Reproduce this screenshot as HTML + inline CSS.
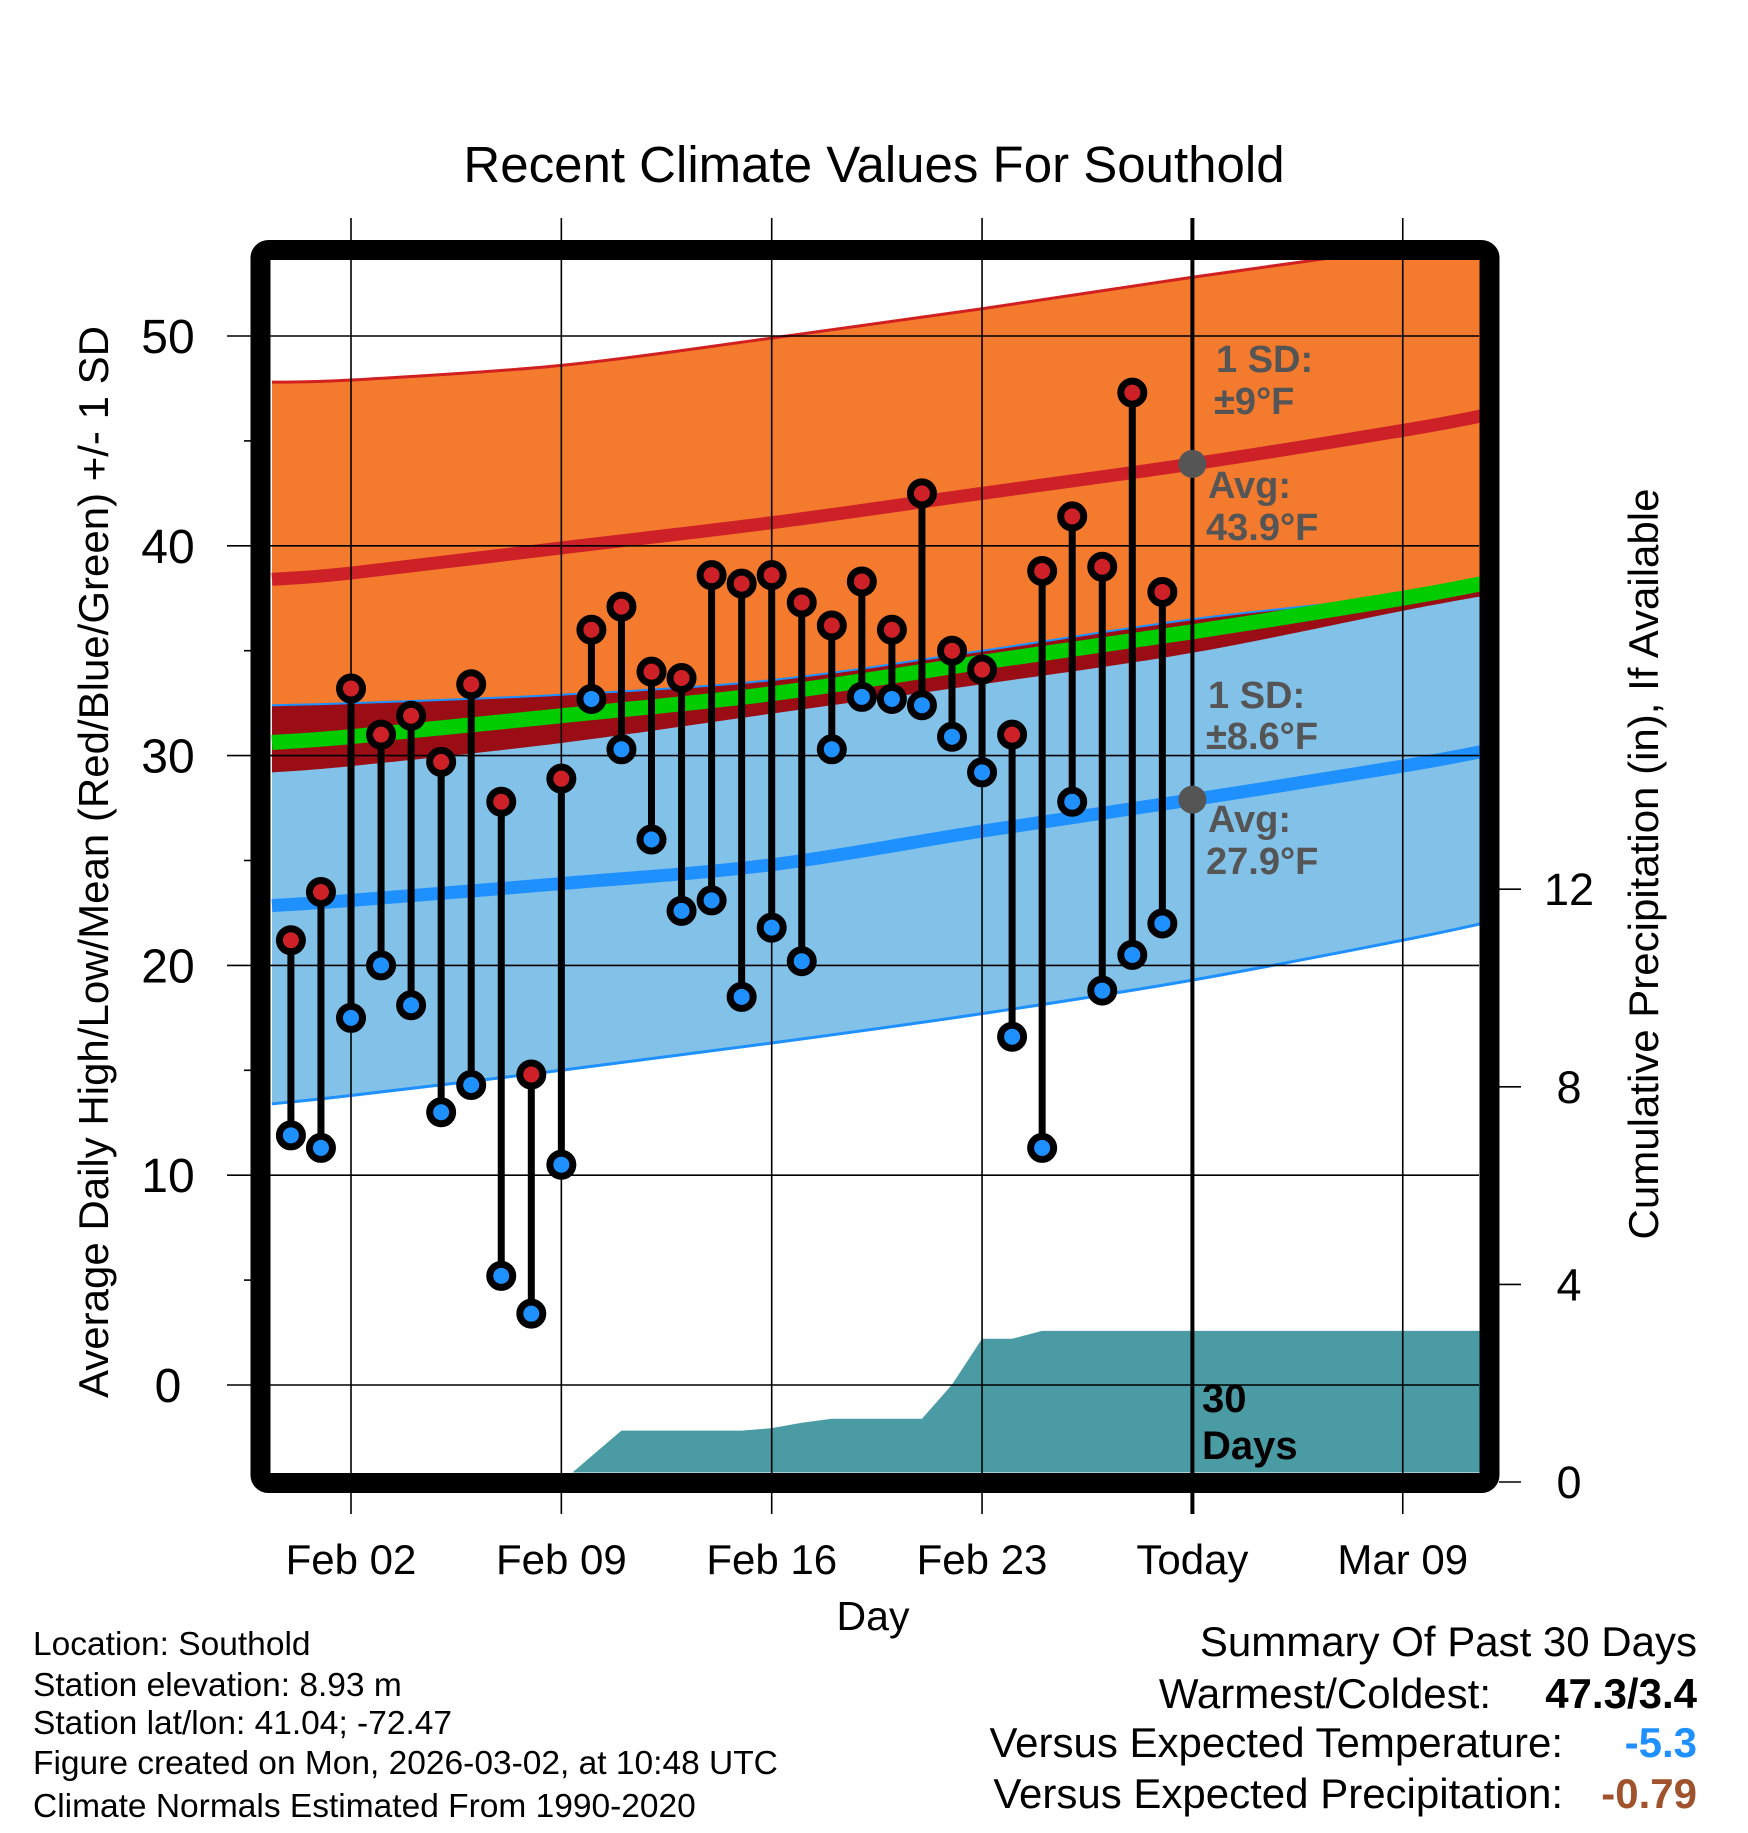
<!DOCTYPE html>
<html><head><meta charset="utf-8">
<style>
html,body{margin:0;padding:0;background:#fff;}
body{width:1748px;height:1828px;overflow:hidden;font-family:"Liberation Sans",Arial,sans-serif;}
svg text{font-family:"Liberation Sans",Arial,sans-serif;}
</style></head>
<body>
<svg id="chart" width="1748" height="1828" viewBox="0 0 1748 1828" xmlns="http://www.w3.org/2000/svg">
<defs><clipPath id="plotclip"><rect x="271" y="260" width="1208.5" height="1212.5"/></clipPath></defs>
<text x="874" y="182" font-size="51" text-anchor="middle">Recent Climate Values For Southold</text>
<g id="plot" clip-path="url(#plotclip)"></g>
<g id="overlay"></g>
<rect x="260.5" y="250" width="1229" height="1233" rx="8" fill="none" stroke="#000" stroke-width="20"/>
<text transform="translate(108,862) rotate(-90)" font-size="42" text-anchor="middle">Average Daily High/Low/Mean (Red/Blue/Green) +/- 1 SD</text>
<text transform="translate(1658,864) rotate(-90)" font-size="42" text-anchor="middle">Cumulative Precipitation (in), If Available</text>
<text x="873" y="1630" font-size="41" text-anchor="middle">Day</text>
<g font-size="33.5">
<text x="33" y="1655">Location: Southold</text>
<text x="33" y="1696">Station elevation: 8.93 m</text>
<text x="33" y="1734">Station lat/lon: 41.04; -72.47</text>
<text x="33" y="1774">Figure created on Mon, 2026-03-02, at 10:48 UTC</text>
<text x="33" y="1817">Climate Normals Estimated From 1990-2020</text>
</g>
<g font-size="42">
<text x="1697" y="1656" text-anchor="end">Summary Of Past 30 Days</text>
<text x="1491" y="1708" text-anchor="end">Warmest/Coldest:</text>
<text x="1697" y="1708" text-anchor="end" font-weight="bold">47.3/3.4</text>
<text x="1563" y="1757" text-anchor="end">Versus Expected Temperature:</text>
<text x="1697" y="1757" text-anchor="end" font-weight="bold" fill="#1e90ff">-5.3</text>
<text x="1563" y="1808" text-anchor="end">Versus Expected Precipitation:</text>
<text x="1697" y="1808" text-anchor="end" font-weight="bold" fill="#a0522d">-0.79</text>
</g>
</svg>
<script>
// ---- data ----
const dayLabels = ["Jan 31","Feb 01","Feb 02","Feb 03","Feb 04","Feb 05","Feb 06","Feb 07","Feb 08","Feb 09","Feb 10","Feb 11","Feb 12","Feb 13","Feb 14","Feb 15","Feb 16","Feb 17","Feb 18","Feb 19","Feb 20","Feb 21","Feb 22","Feb 23","Feb 24","Feb 25","Feb 26","Feb 27","Feb 28","Mar 01"];
const dayOffsets = [-2,-1,0,1,2,3,4,5,6,7,8,9,10,11,12,13,14,15,16,17,18,19,20,21,22,23,24,25,26,27];
const highs = [21.2,23.5,33.2,31.0,31.9,29.7,33.4,27.8,14.8,28.9,36.0,37.1,34.0,33.7,38.6,38.2,38.6,37.3,36.2,38.3,36.0,42.5,35.0,34.1,31.0,38.8,41.4,39.0,47.3,37.8];
const lows = [11.9,11.3,17.5,20.0,18.1,13.0,14.3,5.2,3.4,10.5,32.7,30.3,26.0,22.6,23.1,18.5,21.8,20.2,30.3,32.8,32.7,32.4,30.9,29.2,16.6,11.3,27.8,18.8,20.5,22.0];
const precip = [0,0,0,0,0,0,0,0,0,0,0.52,1.04,1.04,1.04,1.04,1.04,1.09,1.2,1.28,1.28,1.28,1.28,1.97,2.9,2.9,3.06,3.06,3.06,3.06,3.06];
const normDays = [-2.63,0,7,14,21,28,35,37.65];
const highNorm = [38.4,38.7,39.9,41.1,42.5,43.9,45.5,46.2];
const highUpper = [47.8,47.9,48.6,49.9,51.3,52.8,54.2,54.8];
const highLower = [29.2,29.5,30.6,32.0,33.4,34.9,36.9,37.6];
const lowNorm = [22.85,23.1,23.9,24.8,26.4,27.9,29.5,30.2];
const lowUpper = [32.4,32.5,32.9,33.6,35.0,36.5,37.6,38.0];
const lowLower = [13.4,13.8,15.0,16.3,17.7,19.3,21.2,22.0];
const xTickDays = [0,7,14,21,28,35];
const xTickLabels = ["Feb 02","Feb 09","Feb 16","Feb 23","Today","Mar 09"];
const yTicks = [0,10,20,30,40,50];
const yMinor = [5,15,25,35,45];
const pTicks = [0,4,8,12];

// ---- axes ----
const X = d => 351 + 30.05*d;
const Y = v => 1385 - 20.98*v;
const P = v => 1482 - 49.4*v;
const NS = "http://www.w3.org/2000/svg";
const plot = document.getElementById('plot');
const overlay = document.getElementById('overlay');
const svg = document.getElementById('chart');
function mk(tag, attrs, parent){const e=document.createElementNS(NS,tag);for(const k in attrs)e.setAttribute(k,attrs[k]);parent.appendChild(e);return e;}
function smooth(pts){
  let d = 'M'+pts[0][0]+','+pts[0][1];
  for(let i=0;i<pts.length-1;i++){
    const p0=pts[Math.max(0,i-1)],p1=pts[i],p2=pts[i+1],p3=pts[Math.min(pts.length-1,i+2)];
    const c1=[p1[0]+(p2[0]-p0[0])/6,p1[1]+(p2[1]-p0[1])/6];
    const c2=[p2[0]-(p3[0]-p1[0])/6,p2[1]-(p3[1]-p1[1])/6];
    d+=' C'+c1[0]+','+c1[1]+' '+c2[0]+','+c2[1]+' '+p2[0]+','+p2[1];
  }
  return d;
}
function ptsOf(arr){return normDays.map((d,i)=>[X(d),Y(arr[i])]);}
function band(top,bot){
  const t = smooth(ptsOf(top));
  const b = smooth(ptsOf(bot).reverse()).replace(/^M/,' L');
  return t+b+' Z';
}
function line(arr){return smooth(ptsOf(arr));}

let e;
e = mk('path',{d:band(highUpper,highLower),fill:'#f47a2e'},plot);


e = mk('path',{d:band(lowUpper,lowLower),fill:'#82c1e8'},plot);


e = mk('path',{d:band(lowUpper,highLower),fill:'#9b0d14'},plot);


e = mk('path',{d:line(highUpper),fill:'none',stroke:'#d0201f','stroke-width':3},plot);


e = mk('path',{d:line(lowUpper),fill:'none',stroke:'#1e90ff','stroke-width':2},plot);


e = mk('path',{d:line(lowLower),fill:'none',stroke:'#1e90ff','stroke-width':3},plot);


const meanNorm = highNorm.map((h,i)=>(h+lowNorm[i])/2);
e = mk('path',{d:line(meanNorm),fill:'none',stroke:'#00cc00','stroke-width':15},plot);


e = mk('path',{d:line(highNorm),fill:'none',stroke:'#cd2027','stroke-width':13},plot);


e = mk('path',{d:line(lowNorm),fill:'none',stroke:'#1e90ff','stroke-width':13},plot);



// precip area
let pp = [X(dayOffsets[0])+','+P(0)];
dayOffsets.forEach((d,i)=>pp.push(X(d)+','+P(precip[i])));
pp.push(X(40)+','+P(precip[precip.length-1]));
pp.push(X(40)+','+P(0));
e = mk('polygon',{points:pp.join(' '),fill:'#4a9ba3'},plot);



// grid
yTicks.forEach(v=>{
  const g = mk('line',{x1:227,x2:1479,y1:Y(v),y2:Y(v),stroke:'#000','stroke-width':1.6},overlay);
  
  
  const t = mk('text',{x:168,y:Y(v)+17,'font-size':48,'text-anchor':'middle'},svg);
  t.textContent = v;
  
  
});
yMinor.forEach(v=>{
  const g = mk('line',{x1:244,x2:251,y1:Y(v),y2:Y(v),stroke:'#000','stroke-width':1.6},overlay);
  
  
});
xTickDays.forEach((d,i)=>{
  const g = mk('line',{x1:X(d),x2:X(d),y1:218,y2:1514,stroke:'#000','stroke-width':1.6},overlay);
  
  
  const t = mk('text',{x:X(d),y:1574,'font-size':42,'text-anchor':'middle'},svg);
  t.textContent = xTickLabels[i];
  
  
});
pTicks.forEach(v=>{
  const g = mk('line',{x1:1499,x2:1521,y1:P(v),y2:P(v),stroke:'#000','stroke-width':1.6},svg);
  
  
  const t = mk('text',{x:1569,y:P(v)+16,'font-size':45,'text-anchor':'middle'},svg);
  t.textContent = v;
  
  
});

// today line
e = mk('line',{x1:X(28),x2:X(28),y1:218,y2:1514,stroke:'#000','stroke-width':4},overlay);



// daily stems + markers
dayOffsets.forEach((d,i)=>{
  const s = mk('line',{x1:X(d),x2:X(d),y1:Y(highs[i]),y2:Y(lows[i]),stroke:'#000','stroke-width':7},overlay);
  
  
});
dayOffsets.forEach((d,i)=>{
  const h = mk('circle',{cx:X(d),cy:Y(highs[i]),r:11.5,fill:'#cd2027',stroke:'#000','stroke-width':7},overlay);
  
  
  const l = mk('circle',{cx:X(d),cy:Y(lows[i]),r:11.5,fill:'#1e90ff',stroke:'#000','stroke-width':7},overlay);
  
  
});

// today normal markers
const todayIdx = 5;
e = mk('circle',{cx:X(28),cy:Y(highNorm[todayIdx]),r:14,fill:'#555'},overlay);


e = mk('circle',{cx:X(28),cy:Y(lowNorm[todayIdx]),r:14,fill:'#555'},overlay);



// annotations
function ann(x,y,txt,name,fill,size){
  const t = mk('text',{x:x,y:y,'font-size':size||38,'font-weight':'bold',fill:fill||'#555'},overlay);
  t.textContent = txt;
  
  
}
ann(1216,372,'1 SD:','high-sd-label');
ann(1214,414,'±9°F','high-sd-value');
ann(1208,498,'Avg:','high-avg-label');
ann(1206,540,'43.9°F','high-avg-value');
ann(1208,708,'1 SD:','low-sd-label');
ann(1206,749,'±8.6°F','low-sd-value');
ann(1208,832,'Avg:','low-avg-label');
ann(1206,874,'27.9°F','low-avg-value');
ann(1202,1412,'30','days-count',"#000",40);
ann(1202,1459,'Days','days-label',"#000",40);
</script>
</body></html>
